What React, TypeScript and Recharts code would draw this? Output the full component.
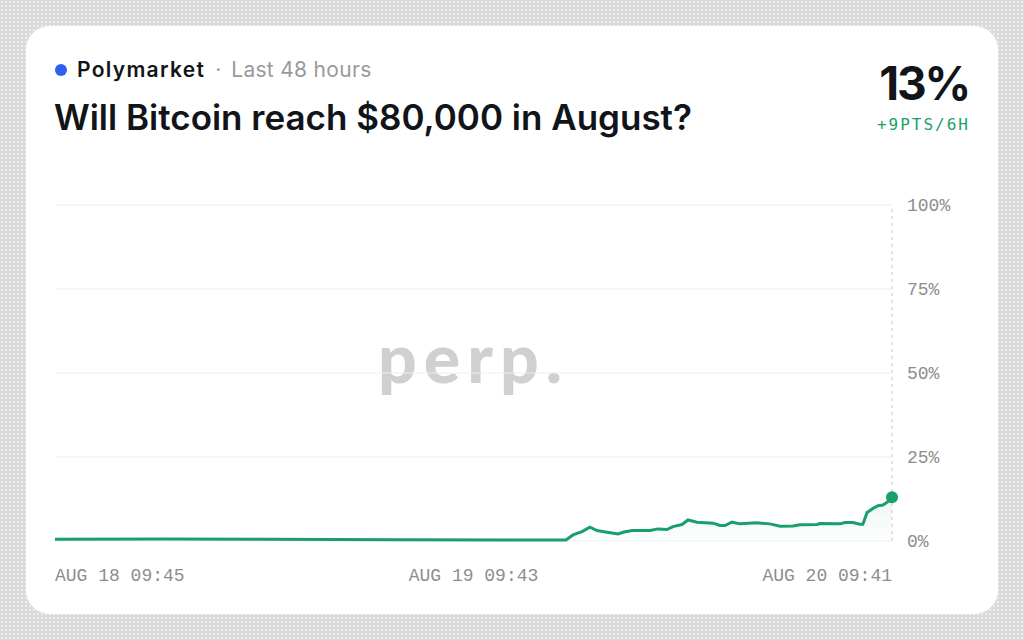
import React from "react";
import {
  AreaChart,
  Area,
  XAxis,
  YAxis,
  CartesianGrid,
  ReferenceLine,
  ReferenceDot,
} from "recharts";

// hours since AUG 18 09:45
const HOURS = [
  0, 6.3, 12, 20, 28, 29.3, 29.71, 30.22, 30.68, 31.08, 31.66, 32.29, 32.57,
  33.09, 34.12, 34.58, 35.1, 35.44, 35.96, 36.3, 36.82, 37.74, 38.14, 38.42,
  38.82, 39.28, 40.26, 41.0, 41.58, 42.32, 42.72, 43.7, 43.87, 45.02, 45.3,
  45.76, 46.16, 46.33, 46.57, 46.91, 47.2, 47.48, 47.77, 48,
];
const PROBABILITY = [
  0.5, 0.6, 0.5, 0.4, 0.3, 0.3, 1.8, 2.8, 4.1, 3.1, 2.6, 2.1, 2.6, 3.1, 3.1,
  3.6, 3.4, 4.3, 4.9, 6.25, 5.6, 5.3, 4.6, 4.6, 5.6, 5.1, 5.4, 5.1, 4.4, 4.5,
  4.8, 4.9, 5.2, 5.1, 5.5, 5.5, 5.0, 5.0, 8.5, 9.7, 10.5, 10.7, 11.7, 13,
];
const X_TICKS = [0, 24, 48];
const X_LABELS = ["AUG 18 09:45", "AUG 19 09:43", "AUG 20 09:41"];
const Y_TICKS = [0, 25, 50, 75, 100];

const data = HOURS.map((h, i) => ({ h, p: PROBABILITY[i] }));

const GREEN = "#1a9f6a";
const MONO = "'Liberation Mono', 'DejaVu Sans Mono', monospace";
const SANS = "Inter, 'Noto Sans', sans-serif";

function XTick(props: any) {
  const { x, y, payload, index } = props;
  const anchor = index === 0 ? "start" : index === X_TICKS.length - 1 ? "end" : "middle";
  return (
    <text
      x={x}
      y={y}
      dy={14}
      textAnchor={anchor}
      fill="#8d8d8d"
      fontSize={18}
      fontFamily={MONO}
    >
      {X_LABELS[X_TICKS.indexOf(payload.value)]}
    </text>
  );
}

export default function App() {
  return (
    <div
      style={{
        position: "fixed",
        left: 0,
        top: 0,
        width: 1024,
        height: 640,
        overflow: "hidden",
        backgroundColor: "#dadada",
        backgroundImage:
          "radial-gradient(circle, #eeeeee 1px, transparent 1.3px)",
        backgroundSize: "4px 4px",
        fontFamily: SANS,
      }}
    >
      <div
        style={{
          position: "absolute",
          left: 26,
          top: 26,
          width: 972,
          height: 588,
          borderRadius: 24,
          background: "#ffffff",
        }}
      />
      <div
        style={{
          position: "absolute",
          left: 0,
          width: 947,
          top: 316,
          textAlign: "center",
          fontFamily: "Lato, sans-serif",
          fontWeight: 900,
          fontSize: 68,
          letterSpacing: 7,
          color: "#d0d0d0",
        }}
      >
        perp.
      </div>

      <div
        style={{
          position: "absolute",
          left: 55,
          top: 57,
          display: "flex",
          alignItems: "center",
          fontSize: 21,
        }}
      >
        <span
          style={{
            width: 12,
            height: 12,
            borderRadius: 6,
            background: "#2f5ef0",
            marginRight: 10,
          }}
        />
        <span style={{ fontWeight: 600, color: "#111418", letterSpacing: 1.3 }}>
          Polymarket
        </span>
        <span style={{ color: "#a0a0a0", margin: "0 10px" }}>·</span>
        <span style={{ color: "#9a9a9a", letterSpacing: 0.3 }}>Last 48 hours</span>
      </div>
      <div
        style={{
          position: "absolute",
          left: 54,
          top: 96,
          fontSize: 35,
          fontWeight: 600,
          letterSpacing: 0,
          color: "#111418",
        }}
      >
        Will Bitcoin reach $80,000 in August?
      </div>
      <div
        style={{
          position: "absolute",
          right: 1024 - 969,
          top: 55,
          fontSize: 46,
          fontWeight: 700,
          letterSpacing: -2.2,
          color: "#111418",
        }}
      >
        13%
      </div>
      <div
        style={{
          position: "absolute",
          right: 1024 - 970,
          top: 115,
          fontSize: 16,
          fontFamily: "'DejaVu Sans Mono', monospace",
          letterSpacing: 2,
          color: GREEN,
        }}
      >
        +9PTS/6H
      </div>

      <div style={{ position: "absolute", left: 0, top: 0 }}>
        <AreaChart
          width={1024}
          height={640}
          data={data}
          margin={{ top: 205, right: 72, bottom: 0, left: 55 }}
        >
          <defs>
            <linearGradient id="fillG" x1="0" y1="0" x2="0" y2="1">
              <stop offset="0%" stopColor={GREEN} stopOpacity={0.14} />
              <stop offset="100%" stopColor={GREEN} stopOpacity={0.02} />
            </linearGradient>
          </defs>
          <CartesianGrid vertical={false} stroke="#eeeeee" />
          <XAxis
            dataKey="h"
            type="number"
            domain={[0, 48]}
            ticks={X_TICKS}
            axisLine={false}
            tickLine={false}
            tickSize={0}
            tickMargin={26}
            height={99}
            tick={<XTick />}
          />
          <YAxis
            orientation="right"
            domain={[0, 100]}
            ticks={Y_TICKS}
            axisLine={false}
            tickLine={false}
            tickSize={0}
            tickMargin={15}
            width={60}
            tickFormatter={(v) => `${v}%`}
            tick={{ fill: "#8d8d8d", fontSize: 18, fontFamily: MONO }}
          />
          <ReferenceLine
            x={48}
            stroke="#c6c6c6"
            strokeDasharray="3 4"
            strokeWidth={1}
          />
          <Area
            type="linear"
            dataKey="p"
            stroke={GREEN}
            strokeWidth={3}
            fill="url(#fillG)"
            dot={false}
            activeDot={false}
            isAnimationActive={false}
          />
          <ReferenceDot x={48} y={13} r={6} fill={GREEN} stroke="none" />
        </AreaChart>
      </div>
    </div>
  );
}
